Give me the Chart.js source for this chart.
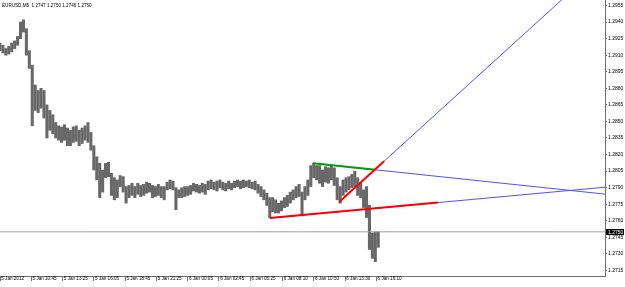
<!DOCTYPE html>
<html>
<head>
<meta charset="utf-8">
<script src="https://cdn.jsdelivr.net/npm/chart.js@4.4.1/dist/chart.umd.min.js"></script>
<style>
html, body { margin: 0; padding: 0; background: #fff; }
#wrap { width: 625px; height: 287px; }
</style>
</head>
<body>
<div id="wrap"><canvas id="myChart" width="625" height="287"></canvas></div>
<script>
// EURUSD M5, one entry per 3 bars (high / low of that group)
var symbolTitle = 'EURUSD,M5  1.2747 1.2750 1.2746 1.2750';
var barStep = 3;
var highs = [
    1.2921,1.2919,1.2916,1.2918,1.2921,1.2923,1.2927,1.2940,1.2942,1.2934,
    1.2914,1.2901,1.2883,1.2878,1.2880,1.2878,1.2865,1.2860,1.2856,1.2849,
    1.2846,1.2845,1.2847,1.2844,1.2842,1.2845,1.2846,1.2842,1.2844,1.2846,
    1.2849,1.2840,1.2828,1.2818,1.2812,1.2806,1.2812,1.2813,1.2803,1.2799,
    1.2797,1.2801,1.2800,1.2791,1.2792,1.2794,1.2791,1.2794,1.2792,1.2793,
    1.2795,1.2794,1.2792,1.2791,1.2793,1.2791,1.2791,1.2795,1.2797,1.2796,
    1.2790,1.2788,1.2790,1.2791,1.2791,1.2792,1.2794,1.2793,1.2792,1.2794,
    1.2793,1.2796,1.2797,1.2795,1.2796,1.2797,1.2795,1.2794,1.2796,1.2794,
    1.2796,1.2797,1.2796,1.2797,1.2796,1.2797,1.2795,1.2796,1.2793,1.2791,
    1.2788,1.2785,1.2781,1.2781,1.2779,1.2776,1.2778,1.2781,1.2783,1.2786,
    1.2788,1.2791,1.2793,1.2786,1.2791,1.2797,1.2810,1.2812,1.2810,1.2810,
    1.2806,1.2809,1.2808,1.2810,1.2808,1.2799,1.2791,1.2797,1.2799,1.2800,
    1.2802,1.2805,1.2799,1.2794,1.2788,1.2791,1.2774,1.2749,1.2750,1.2750
];
var lows = [
    1.2914,1.2912,1.2910,1.2911,1.2913,1.2916,1.2919,1.2925,1.2931,1.2910,
    1.2898,1.2846,1.2860,1.2858,1.2862,1.2853,1.2835,1.2842,1.2839,1.2835,
    1.2833,1.2831,1.2833,1.2828,1.2828,1.2831,1.2832,1.2828,1.2830,1.2833,
    1.2831,1.2824,1.2806,1.2797,1.2781,1.2786,1.2799,1.2800,1.2783,1.2779,
    1.2781,1.2791,1.2786,1.2776,1.2781,1.2783,1.2781,1.2784,1.2782,1.2783,
    1.2785,1.2786,1.2781,1.2782,1.2783,1.2781,1.2779,1.2788,1.2789,1.2788,
    1.2770,1.2781,1.2781,1.2782,1.2783,1.2784,1.2787,1.2786,1.2785,1.2786,
    1.2784,1.2788,1.2789,1.2788,1.2787,1.2790,1.2788,1.2787,1.2789,1.2788,
    1.2790,1.2791,1.2789,1.2790,1.2791,1.2790,1.2789,1.2788,1.2785,1.2782,
    1.2779,1.2774,1.2763,1.2768,1.2767,1.2767,1.2769,1.2772,1.2773,1.2776,
    1.2779,1.2781,1.2782,1.2765,1.2779,1.2783,1.2791,1.2799,1.2797,1.2794,
    1.2791,1.2795,1.2794,1.2797,1.2792,1.2779,1.2776,1.2783,1.2786,1.2788,
    1.2790,1.2791,1.2783,1.2781,1.2772,1.2763,1.2734,1.2726,1.2723,1.2736
];
var lastPrice = 1.2750;

var timeTicks = [0, 32, 64, 96, 128, 160, 192, 224, 256, 289, 321, 353, 385];
var timeLabels = ['5 Jan 2012', '5 Jan 10:45', '5 Jan 13:25', '5 Jan 16:05', '5 Jan 18:45', '5 Jan 21:25',
    '6 Jan 00:05', '6 Jan 02:45', '6 Jan 05:25', '6 Jan 08:10', '6 Jan 10:50', '6 Jan 13:30', '6 Jan 16:10'];
var priceTicks = [1.2715, 1.2730, 1.2745, 1.2760, 1.2775, 1.2790, 1.2805, 1.2820, 1.2835,
    1.2850, 1.2865, 1.2880, 1.2895, 1.2910, 1.2925, 1.2940, 1.2955];

// trend lines: [bar, price] anchors
var lowerTrend = [{x: 276, y: 1.27625}, {x: 448, y: 1.27765}];
var upperTrend = [{x: 320, y: 1.28122}, {x: 384, y: 1.28062}];
var riseTrend = [{x: 347, y: 1.27770}, {x: 393, y: 1.28140}];

var xMax = 619;

function ray(a, b) {
    var k = (b.y - a.y) / (b.x - a.x);
    return [a, {x: xMax, y: a.y + k * (xMax - a.x)}];
}

var bars = highs.map(function (h, i) {
    return {x: i * barStep, y: [lows[i], h]};
});

var mtOverlay = {
    id: 'mtOverlay',
    afterDraw: function (chart) {
        var c = chart.ctx;
        var ys = chart.scales.y;
        c.save();
        c.fillStyle = '#000';
        c.font = '4.6px "Liberation Sans"';
        c.textBaseline = 'alphabetic';
        c.fillText(symbolTitle, 2, 7);
        var py = Math.round(ys.getPixelForValue(lastPrice));
        c.fillStyle = '#000';
        c.fillRect(ys.left + 1, py - 3, 18, 6);
        c.fillStyle = '#fff';
        c.font = '5px "Liberation Sans"';
        c.textBaseline = 'middle';
        c.fillText(lastPrice.toFixed(4), ys.left + 3, py + 0.5);
        c.restore();
    }
};

var ctx = document.getElementById('myChart').getContext('2d');
var myChart = new Chart(ctx, {
    type: 'bar',
    data: {
        datasets: [
            {
                type: 'line', data: riseTrend, borderColor: '#ff0000', borderWidth: 2,
                pointRadius: 0, order: 1
            },
            {
                type: 'line', data: upperTrend, borderColor: '#00a000', borderWidth: 2,
                pointRadius: 0, order: 1
            },
            {
                type: 'line', data: lowerTrend, borderColor: '#ff0000', borderWidth: 2,
                pointRadius: 0, order: 1
            },
            {
                type: 'line', data: ray(riseTrend[0], riseTrend[1]), borderColor: '#5050ff', borderWidth: 1,
                pointRadius: 0, order: 2
            },
            {
                type: 'line', data: ray(upperTrend[0], upperTrend[1]), borderColor: '#5050ff', borderWidth: 1,
                pointRadius: 0, order: 2
            },
            {
                type: 'line', data: ray(lowerTrend[0], lowerTrend[1]), borderColor: '#5050ff', borderWidth: 1,
                pointRadius: 0, order: 2
            },
            {
                type: 'line', data: [{x: 0, y: lastPrice}, {x: xMax, y: lastPrice}], borderColor: '#a0a0a0',
                borderWidth: 1, pointRadius: 0, order: 4
            },
            {
                label: 'EURUSD', data: bars, backgroundColor: '#686868', borderWidth: 0,
                barThickness: 2.4, order: 5
            }
        ]
    },
    options: {
        responsive: false,
        animation: false,
        events: [],
        layout: { padding: 0 },
        plugins: {
            legend: { display: false },
            title: { display: false },
            tooltip: { enabled: false }
        },
        scales: {
            x: {
                type: 'linear',
                min: 0,
                max: xMax,
                offset: false,
                grid: { drawOnChartArea: false, drawTicks: true, tickLength: 5, color: '#707070', offset: false },
                border: { color: '#707070' },
                afterBuildTicks: function (s) {
                    s.ticks = timeTicks.map(function (v) { return {value: v}; });
                },
                ticks: {
                    autoSkip: false,
                    maxRotation: 0,
                    align: 'start',
                    padding: -5,
                    color: '#000',
                    font: { family: 'Liberation Sans', size: 4.6 },
                    callback: function (v) {
                        var i = timeTicks.indexOf(v);
                        return i < 0 ? '' : ' ' + timeLabels[i];
                    }
                },
                afterFit: function (s) {
                    s.height = 11;
                    s.paddingLeft = 0;
                    s.paddingRight = 0;
                }
            },
            y: {
                position: 'right',
                min: 1.2710,
                max: 1.2960,
                grid: { drawOnChartArea: false, drawTicks: true, tickLength: 2, color: '#707070' },
                border: { color: '#707070' },
                afterBuildTicks: function (s) {
                    s.ticks = priceTicks.map(function (v) { return {value: v}; });
                },
                ticks: {
                    padding: 1,
                    color: '#000',
                    font: { family: 'Liberation Sans', size: 5 },
                    callback: function (v) { return v.toFixed(4); }
                },
                afterFit: function (s) {
                    s.width = 20;
                    s.paddingTop = 0;
                    s.paddingBottom = 0;
                }
            }
        }
    },
    plugins: [mtOverlay]
});
</script>
</body>
</html>
